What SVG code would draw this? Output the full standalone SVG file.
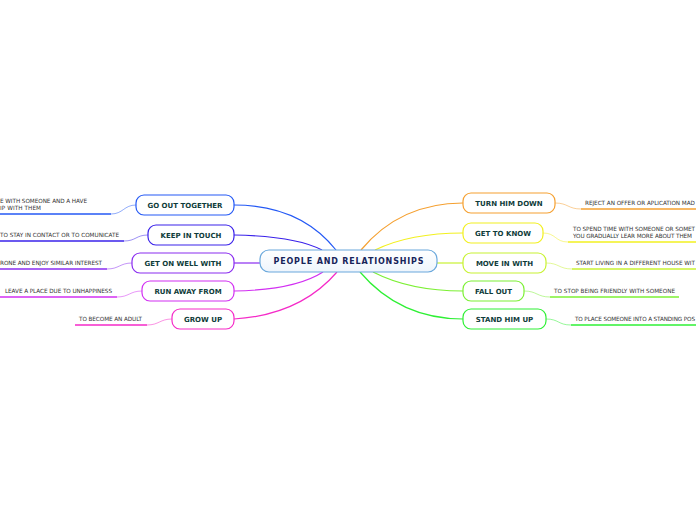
<svg xmlns="http://www.w3.org/2000/svg" width="696" height="520" viewBox="0 0 696 520">
<defs>
<linearGradient id="cg" x1="0" y1="0" x2="0" y2="1">
<stop offset="0" stop-color="#ffffff"/>
<stop offset="1" stop-color="#eef5fc"/>
</linearGradient>
</defs>
<style>
.n rect{fill:#ffffff;stroke-width:1.2}
.n text.t{font-family:"DejaVu Sans",Verdana,sans-serif;font-weight:bold;font-size:7px;fill:#0f3c3a;text-anchor:middle}
.n text.d{font-family:"DejaVu Sans",Verdana,sans-serif;font-weight:normal;font-size:5.7px;fill:#333333;text-anchor:start}
.c path{fill:none;stroke-width:1.2}
.u{fill:none;stroke-width:1.5}
.s{fill:none;stroke-width:1;stroke-opacity:0.5}
</style>
<rect width="696" height="520" fill="#ffffff"/>
<g id="connectors" class="c">
<path d="M234,205 Q300,205 336,250" stroke="#2459f5"/>
<path d="M234,235 Q295,236 322,250" stroke="#3a22ea"/>
<path d="M234,263 L260,263" stroke="#8a2cf0"/>
<path d="M234,291 Q295,290 323,272" stroke="#d22ff2"/>
<path d="M234,319 Q300,315 337,272" stroke="#f52ac8"/>
<path d="M361,250 Q400,203 463,203" stroke="#f5a030"/>
<path d="M375,250 Q410,233 463,233" stroke="#f2f020"/>
<path d="M437,263 L463,263" stroke="#c8f232"/>
<path d="M373,272 Q410,291 463,291" stroke="#7cf034"/>
<path d="M360,272 Q400,319 463,319" stroke="#2ef034"/>
</g>
<g id="center" class="n">
<rect x="260" y="250" width="177" height="22" rx="9" style="fill:url(#cg);stroke:#6aa8dc"/>
<text class="t" x="348.5" y="264" style="font-size:8px;fill:#17245a" textLength="150">PEOPLE AND RELATIONSHIPS</text>
</g>
<g id="go-out-together" class="n">
<rect x="136" y="195" width="98" height="20" rx="8" stroke="#2459f5"/>
<text class="t" x="185" y="207.5">GO OUT TOGETHER</text>
<path class="s" d="M136,205 C124,205 123,214 111,214" stroke="#2459f5"/>
<path class="u" d="M0,214 H111" stroke="#2459f5"/>
<text class="d" x="0" y="203" textLength="87">E WITH SOMEONE AND A HAVE</text>
<text class="d" x="0" y="210" textLength="41">IP WITH THEM</text>
</g>
<g id="keep-in-touch" class="n">
<rect x="148" y="225" width="86" height="20" rx="8" stroke="#3a22ea"/>
<text class="t" x="191" y="237.5">KEEP IN TOUCH</text>
<path class="s" d="M148,235 C136,235 136,241 124,241" stroke="#3a22ea"/>
<path class="u" d="M0,241 H124" stroke="#3a22ea"/>
<text class="d" x="0" y="237" textLength="119">TO STAY IN CONTACT OR TO COMUNICATE</text>
</g>
<g id="get-on-well-with" class="n">
<rect x="132" y="253" width="102" height="20" rx="8" stroke="#8a2cf0"/>
<text class="t" x="183" y="265.5">GET ON WELL WITH</text>
<path class="s" d="M132,263 C120,263 119,269 107,269" stroke="#8a2cf0"/>
<path class="u" d="M0,269 H107" stroke="#8a2cf0"/>
<text class="d" x="0" y="265" textLength="102">RONE AND ENJOY SIMILAR INTEREST</text>
</g>
<g id="run-away-from" class="n">
<rect x="142" y="281" width="92" height="20" rx="8" stroke="#d22ff2"/>
<text class="t" x="188" y="293.5">RUN AWAY FROM</text>
<path class="s" d="M142,291 C130,291 129,297 117,297" stroke="#d22ff2"/>
<path class="u" d="M0,297 H117" stroke="#d22ff2"/>
<text class="d" x="5" y="293" textLength="107">LEAVE A PLACE DUE TO UNHAPPINESS</text>
</g>
<g id="grow-up" class="n">
<rect x="172" y="309" width="62" height="20" rx="8" stroke="#f52ac8"/>
<text class="t" x="203" y="321.5">GROW UP</text>
<path class="s" d="M172,319 C160,319 159,325 147,325" stroke="#f52ac8"/>
<path class="u" d="M75,325 H147" stroke="#f52ac8"/>
<text class="d" x="79" y="321" textLength="63">TO BECOME AN ADULT</text>
</g>
<g id="turn-him-down" class="n">
<rect x="463" y="193" width="92" height="20" rx="8" stroke="#f5a030"/>
<text class="t" x="509" y="205.5">TURN HIM DOWN</text>
<path class="s" d="M555,203 C568,203 568,209 581,209" stroke="#f5a030"/>
<path class="u" d="M581,209 H696" stroke="#f5a030"/>
<text class="d" x="585" y="205" textLength="110">REJECT AN OFFER OR APLICATION MAD</text>
</g>
<g id="get-to-know" class="n">
<rect x="463" y="223" width="80" height="20" rx="8" stroke="#f2f020"/>
<text class="t" x="503" y="235.5">GET TO KNOW</text>
<path class="s" d="M543,233 C556,233 555,242 568,242" stroke="#f2f020"/>
<path class="u" d="M568,242 H696" stroke="#f2f020"/>
<text class="d" x="573" y="230.5" textLength="122">TO SPEND TIME WITH SOMEONE OR SOMET</text>
<text class="d" x="573" y="238" textLength="119">YOU GRADUALLY LEAR MORE ABOUT THEM</text>
</g>
<g id="move-in-with" class="n">
<rect x="463" y="253" width="83" height="20" rx="8" stroke="#c8f232"/>
<text class="t" x="504.5" y="265.5">MOVE IN WITH</text>
<path class="s" d="M546,263 C559,263 559,269 572,269" stroke="#c8f232"/>
<path class="u" d="M572,269 H696" stroke="#c8f232"/>
<text class="d" x="576" y="264.5" textLength="119">START LIVING IN A DIFFERENT HOUSE WIT</text>
</g>
<g id="fall-out" class="n">
<rect x="463" y="281" width="61" height="20" rx="8" stroke="#7cf034"/>
<text class="t" x="493.5" y="293.5">FALL OUT</text>
<path class="s" d="M524,291 C537,291 537,297 550,297" stroke="#7cf034"/>
<path class="u" d="M550,297 H679" stroke="#7cf034"/>
<text class="d" x="554" y="293" textLength="121">TO STOP BEING FRIENDLY WITH SOMEONE</text>
</g>
<g id="stand-him-up" class="n">
<rect x="463" y="309" width="83" height="20" rx="8" stroke="#2ef034"/>
<text class="t" x="504.5" y="321.5">STAND HIM UP</text>
<path class="s" d="M546,319 C559,319 558,325 571,325" stroke="#2ef034"/>
<path class="u" d="M571,325 H696" stroke="#2ef034"/>
<text class="d" x="575" y="320.5" textLength="120">TO PLACE SOMEONE INTO A STANDING POS</text>
</g>
</svg>
